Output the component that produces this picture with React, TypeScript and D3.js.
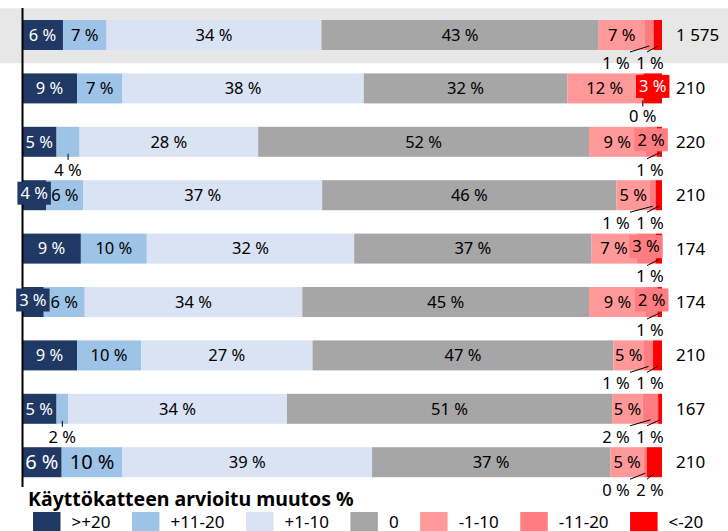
import { useEffect, useRef } from 'react';
import * as d3 from 'd3';

const legendLabels = ['>+20', '+11-20', '+1-10', '0', '-1-10', '-11-20', '<-20'];
const colors = ['#203864', '#9dc3e6', '#dae3f3', '#a6a6a6', '#ff9999', '#ff7c80', '#ff0000'];
const respondents = ['1 575', '210', '220', '210', '174', '174', '210', '167', '210'];

// share of answers (%) per change class, one value per bar
const over20 = [6.4, 8.6, 5.4, 3.8, 9.2, 3.4, 8.6, 5.4, 6.2];
const plus11to20 = [6.8, 7.1, 3.6, 5.8, 10.3, 6.4, 10.0, 1.8, 9.5];
const plus1to10 = [33.6, 37.7, 27.9, 37.3, 32.4, 34.0, 26.8, 34.2, 39.0];
const zero = [43.3, 31.8, 51.7, 46.0, 37.1, 44.8, 47.0, 50.8, 37.2];
const minus1to10 = [7.2, 11.7, 8.8, 5.2, 7.0, 8.9, 4.8, 4.8, 5.3];
const minus11to20 = [1.4, 0.2, 1.8, 0.9, 3.0, 1.8, 1.4, 2.4, 0.4];
const under20 = [1.3, 2.9, 0.8, 1.0, 1.0, 0.7, 1.4, 0.6, 2.4];

// i = inside the bar, b = boxed in segment colour, o = under the bar with a leader line
const labelModes = ['iiiiioo', 'iiiiiob', 'ioiiibo', 'biiiioo', 'iiiiibo', 'biiiibo', 'iiiiioo', 'ioiiioo', 'iiiiioo'];

const FONT = '"Noto Sans", sans-serif';

const App = () => {
  const svgRef = useRef<SVGSVGElement>(null);

  useEffect(() => {
    const width = 728;
    const height = 531;
    const series = [over20, plus11to20, plus1to10, zero, minus1to10, minus11to20, under20];
    const keys = series.map((_, i) => 's' + i);
    const table = respondents.map((n, r) => {
      const row: any = { n, r };
      series.forEach((s, i) => (row[keys[i]] = s[r]));
      return row;
    });
    const stacked = d3.stack().keys(keys).offset(d3.stackOffsetExpand)(table);

    const svg = d3.select(svgRef.current).attr('width', width).attr('height', height);
    svg.selectAll('*').remove();

    const x = d3.scaleLinear().domain([0, 1]).range([22, 662]);
    const y = d3
      .scaleBand<number>()
      .domain(d3.range(respondents.length))
      .range([8.3, 488.9])
      .paddingInner(0.438)
      .paddingOuter(0.219);

    // highlighted first row
    svg
      .append('rect')
      .attr('x', 0)
      .attr('y', y(0)! - y.step() * 0.219)
      .attr('width', width)
      .attr('height', y.step() + 1.5)
      .attr('fill', '#e7e7e7');

    const g = svg.append('g');
    stacked.forEach((layer, si) => {
      g.selectAll(null)
        .data(layer)
        .join('rect')
        .attr('x', (d) => x(d[0]))
        .attr('y', (_, r) => y(r)!)
        .attr('width', (d) => Math.max(0, x(d[1]) - x(d[0])))
        .attr('height', y.bandwidth())
        .attr('fill', colors[si]);
    });

    svg
      .append('line')
      .attr('x1', 22.5)
      .attr('x2', 22.5)
      .attr('y1', 8)
      .attr('y2', 487)
      .attr('stroke', '#000')
      .attr('stroke-width', 2);

    const labels = svg.append('g').attr('font-family', FONT);

    respondents.forEach((n, r) => {
      const top = y(r)!;
      const bottom = top + y.bandwidth();
      const mid = top + y.bandwidth() / 2;
      const modes = labelModes[r];

      // end chain of outside labels is packed to the right
      let chainStart = series.length;
      while (chainStart > 0 && modes[chainStart - 1] === 'o') chainStart--;

      series.forEach((s, si) => {
        const seg = stacked[si][r];
        const cx = (x(seg[0]) + x(seg[1])) / 2;
        const txt = Math.round(s[r]) + ' %';
        const mode = modes[si];
        const size = r === respondents.length - 1 && si < 2 ? 20 : 16.5;

        if (mode === 'i') {
          labels
            .append('text')
            .attr('x', cx)
            .attr('y', mid)
            .attr('dy', '0.35em')
            .attr('text-anchor', 'middle')
            .attr('font-size', size)
            .attr('fill', si === 0 ? '#fff' : '#000')
            .text(txt);
        } else if (mode === 'b') {
          const box = labels.append('rect').attr('fill', colors[si]);
          const t = labels
            .append('text')
            .attr('x', cx)
            .attr('y', mid - 2)
            .attr('dy', '0.35em')
            .attr('text-anchor', 'middle')
            .attr('font-size', size)
            .attr('fill', si === 0 || si === 6 ? '#fff' : '#000')
            .text(txt);
          const w = (t.node() as SVGTextElement).getComputedTextLength() + 6;
          box
            .attr('x', cx - w / 2)
            .attr('y', mid - 2 - 11.5)
            .attr('width', w)
            .attr('height', 23);
        } else {
          let lx = cx;
          if (si >= chainStart) {
            const fromEnd = series.length - 1 - si;
            lx = 650 - fromEnd * 34;
            const sx = fromEnd === 0 ? lx - 3 : lx + 14;
            labels
              .append('line')
              .attr('x1', sx)
              .attr('y1', bottom + 2)
              .attr('x2', cx)
              .attr('y2', bottom - 4)
              .attr('stroke', '#000')
              .attr('stroke-width', 1);
          } else {
            labels
              .append('line')
              .attr('x1', cx)
              .attr('x2', cx)
              .attr('y1', bottom - 3)
              .attr('y2', bottom + 3)
              .attr('stroke', '#000')
              .attr('stroke-width', 1);
          }
          labels
            .append('text')
            .attr('x', lx)
            .attr('y', bottom + 13)
            .attr('dy', '0.35em')
            .attr('text-anchor', 'middle')
            .attr('font-size', 16.5)
            .attr('fill', '#000')
            .text(txt);
        }
      });

      labels
        .append('text')
        .attr('x', 676)
        .attr('y', mid)
        .attr('dy', '0.35em')
        .attr('font-size', 17)
        .attr('fill', '#000')
        .text(n);
    });

    svg
      .append('text')
      .attr('x', 28)
      .attr('y', 506)
      .attr('font-family', FONT)
      .attr('font-weight', 'bold')
      .attr('font-size', 19.5)
      .attr('fill', '#000')
      .text('Käyttökatteen arvioitu muutos %');

    const legend = svg.append('g').attr('font-family', FONT).attr('font-size', 17);
    let lx = 33;
    legendLabels.forEach((label, i) => {
      legend
        .append('rect')
        .attr('x', lx)
        .attr('y', 512)
        .attr('width', 27.5)
        .attr('height', 20)
        .attr('fill', colors[i]);
      const t = legend
        .append('text')
        .attr('x', lx + 38.5)
        .attr('y', 522)
        .attr('dy', '0.35em')
        .attr('fill', '#000')
        .text(label);
      lx += 38.5 + (t.node() as SVGTextElement).getComputedTextLength() + 21.5;
    });
  }, []);

  return (
    <div style={{ position: 'absolute', left: 0, top: 0 }}>
      <svg ref={svgRef} style={{ display: 'block' }}></svg>
    </div>
  );
};

export default App;
